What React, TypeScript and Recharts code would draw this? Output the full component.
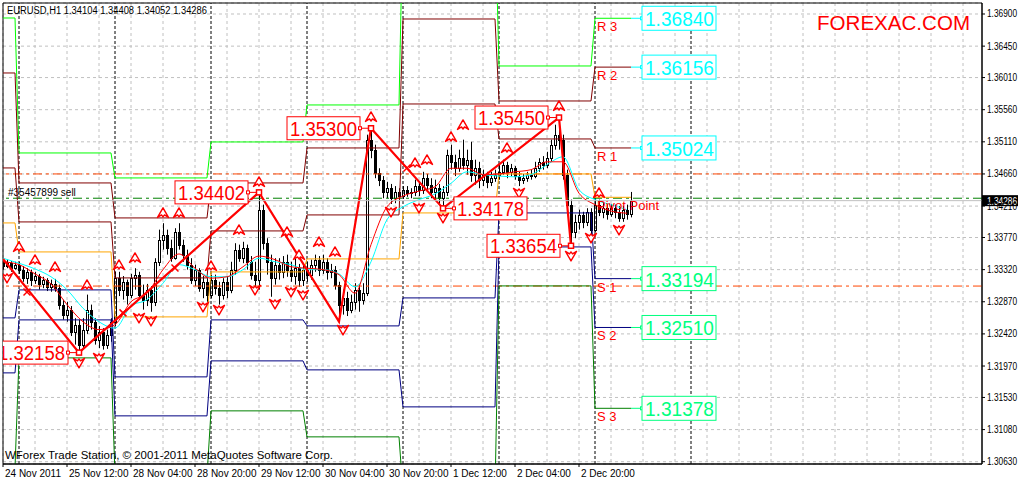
import React from 'react';
import {
  ComposedChart, XAxis, YAxis, CartesianGrid, Line, Bar, Scatter,
  ReferenceLine, ReferenceArea,
} from 'recharts';

const FONT = "'Liberation Sans', Arial, sans-serif";

// axes
const timeTicks = [0, 16, 32, 48, 64, 80, 96, 112, 128, 144];
const timeLabels = ['24 Nov 2011', '25 Nov 12:00', '28 Nov 04:00', '28 Nov 20:00', '29 Nov 12:00',
  '30 Nov 04:00', '30 Nov 20:00', '1 Dec 12:00', '2 Dec 04:00', '2 Dec 20:00'];
const priceTicks = [1.369, 1.3645, 1.3601, 1.3556, 1.3511, 1.3466, 1.3421, 1.3377, 1.3332,
  1.3287, 1.3242, 1.3197, 1.3153, 1.3108, 1.3063];
const gridCols = [0, 8, 16, 24, 32, 40, 48, 56, 64, 72, 80, 88, 96, 104, 112, 120, 128, 136,
  144, 152, 160, 168, 176, 184, 192, 200, 208, 216, 224, 232, 240];
const daySeparators = [4, 28, 52, 76, 100, 124, 148, 172];

// H1 candles, bar index 0..157
const opens = [1.3343,1.3337,1.3341,1.3334,1.3339,1.3332,1.3320,1.3329,1.3318,1.3323,
  1.3312,1.3318,1.3308,1.3312,1.3306,1.3283,1.3269,1.3276,1.3245,1.3255,
  1.3227,1.3248,1.3276,1.3259,1.3234,1.3245,1.3227,1.3241,1.3259,1.3320,
  1.3304,1.3315,1.3297,1.3320,1.3325,1.3297,1.3290,1.3304,1.3287,1.3343,
  1.3374,1.3381,1.3362,1.3348,1.3385,1.3367,1.3353,1.3339,1.3318,1.3332,
  1.3306,1.3315,1.3297,1.3318,1.3306,1.3297,1.3315,1.3304,1.3332,1.3360,
  1.3348,1.3362,1.3343,1.3325,1.3318,1.3416,1.3369,1.3343,1.3320,1.3339,
  1.3329,1.3343,1.3332,1.3323,1.3334,1.3318,1.3332,1.3325,1.3339,1.3346,
  1.3332,1.3343,1.3329,1.3332,1.3311,1.3283,1.3292,1.3276,1.3287,1.3304,
  1.3290,1.3299,1.3514,1.3500,1.3467,1.3458,1.3441,1.3446,1.3432,1.3441,
  1.3435,1.3444,1.3439,1.3441,1.3449,1.3444,1.3460,1.3451,1.3441,1.3446,
  1.3432,1.3441,1.3493,1.3483,1.3474,1.3488,1.3479,1.3486,1.3465,1.3474,
  1.3458,1.3465,1.3455,1.3460,1.3465,1.3469,1.3479,1.3469,1.3474,1.3463,
  1.3458,1.3460,1.3465,1.3463,1.3474,1.3483,1.3479,1.3488,1.3507,1.3521,
  1.3514,1.3465,1.3423,1.3385,1.3399,1.3409,1.3399,1.3413,1.3388,1.3423,
  1.3413,1.3418,1.3410,1.3418,1.3413,1.3404,1.3416,1.34104];
const highs = [1.3348,1.3346,1.3344,1.3343,1.3343,1.3337,1.3334,1.3332,1.3329,1.3326,
  1.3322,1.3320,1.3318,1.3319,1.3311,1.3290,1.3287,1.3281,1.3264,1.3262,
  1.3264,1.3297,1.3283,1.3264,1.3253,1.3250,1.3248,1.3264,1.3329,1.3329,
  1.3323,1.3318,1.3326,1.3334,1.3329,1.3311,1.3312,1.3309,1.3348,1.3388,
  1.3397,1.3388,1.3374,1.3390,1.3397,1.3374,1.3360,1.3348,1.3339,1.3334,
  1.3323,1.3320,1.3325,1.3325,1.3315,1.3320,1.3322,1.3343,1.3369,1.3367,
  1.3371,1.3367,1.3351,1.3343,1.34402,1.3423,1.3376,1.3353,1.3348,1.3348,
  1.3351,1.3353,1.3343,1.3348,1.3340,1.3339,1.3343,1.3346,1.3353,1.3351,
  1.3353,1.3348,1.3340,1.3337,1.3315,1.3304,1.3301,1.3297,1.3313,1.3311,
  1.3313,1.3521,1.3530,1.3507,1.3474,1.3463,1.3455,1.3452,1.3449,1.3446,
  1.3449,1.3449,1.3446,1.3458,1.3455,1.3469,1.3466,1.3460,1.3458,1.3452,
  1.3449,1.3500,1.3507,1.3493,1.3500,1.3514,1.3500,1.3511,1.3486,1.3483,
  1.3472,1.3469,1.3469,1.3472,1.3479,1.3486,1.3483,1.3480,1.3477,1.3469,
  1.3466,1.3469,1.3472,1.3483,1.3488,1.3491,1.3497,1.3514,1.3535,1.3545,
  1.3521,1.3472,1.3430,1.3409,1.3416,1.3413,1.3418,1.3418,1.3432,1.3430,
  1.3425,1.3424,1.3424,1.3423,1.3421,1.3421,1.3423,1.34408];
const lows = [1.3332,1.3334,1.3329,1.3332,1.3326,1.3315,1.3312,1.3309,1.3312,1.3304,
  1.3306,1.3302,1.3301,1.3301,1.3276,1.3262,1.3259,1.3239,1.3227,1.32158,
  1.3222,1.3242,1.3248,1.3227,1.3222,1.3220,1.3221,1.3231,1.3253,1.3295,
  1.3290,1.3283,1.3292,1.3304,1.3290,1.3276,1.3281,1.3273,1.3281,1.3337,
  1.3360,1.3353,1.3343,1.3346,1.3360,1.3343,1.3332,1.3312,1.3309,1.3301,
  1.3292,1.3287,1.3292,1.3297,1.3283,1.3290,1.3292,1.3299,1.3325,1.3343,
  1.3341,1.3332,1.3318,1.3304,1.3304,1.3360,1.3325,1.3294,1.3311,1.3318,
  1.3320,1.3322,1.3315,1.3311,1.3308,1.3309,1.3315,1.3318,1.3329,1.3323,
  1.3326,1.3318,1.3320,1.3304,1.32592,1.3269,1.3267,1.3271,1.3276,1.3273,
  1.3283,1.3295,1.3488,1.3460,1.3449,1.3432,1.3432,1.3424,1.3425,1.3430,
  1.3431,1.3434,1.3432,1.3435,1.3435,1.3438,1.3444,1.3432,1.3430,1.3424,
  1.34178,1.3435,1.3472,1.3463,1.3469,1.3472,1.3465,1.3455,1.3451,1.3446,
  1.3449,1.3446,1.3449,1.3455,1.3458,1.3465,1.3460,1.3463,1.3458,1.3449,
  1.3452,1.3455,1.3458,1.3460,1.3469,1.3472,1.3474,1.3483,1.3500,1.3500,
  1.3458,1.3409,1.33654,1.3376,1.3388,1.3390,1.3393,1.3379,1.3385,1.3407,
  1.3404,1.3402,1.3406,1.3404,1.3399,1.3399,1.3402,1.34052];
const closes = [1.3337,1.3341,1.3334,1.3339,1.3332,1.3320,1.3329,1.3318,1.3323,1.3312,
  1.3318,1.3308,1.3312,1.3306,1.3283,1.3269,1.3276,1.3245,1.3255,1.3227,
  1.3248,1.3276,1.3259,1.3234,1.3245,1.3227,1.3241,1.3259,1.3320,1.3304,
  1.3315,1.3297,1.3320,1.3325,1.3297,1.3290,1.3304,1.3287,1.3343,1.3374,
  1.3381,1.3362,1.3348,1.3385,1.3367,1.3353,1.3339,1.3318,1.3332,1.3306,
  1.3315,1.3297,1.3318,1.3306,1.3297,1.3315,1.3304,1.3332,1.3360,1.3348,
  1.3362,1.3343,1.3325,1.3318,1.3416,1.3369,1.3343,1.3320,1.3339,1.3329,
  1.3343,1.3332,1.3323,1.3334,1.3318,1.3332,1.3325,1.3339,1.3346,1.3332,
  1.3343,1.3329,1.3332,1.3311,1.3283,1.3292,1.3276,1.3287,1.3304,1.3290,
  1.3299,1.3514,1.3500,1.3467,1.3458,1.3441,1.3446,1.3432,1.3441,1.3435,
  1.3444,1.3439,1.3441,1.3449,1.3444,1.3460,1.3451,1.3441,1.3446,1.3432,
  1.3441,1.3493,1.3483,1.3474,1.3488,1.3479,1.3486,1.3465,1.3474,1.3458,
  1.3465,1.3455,1.3460,1.3465,1.3469,1.3479,1.3469,1.3474,1.3463,1.3458,
  1.3460,1.3465,1.3463,1.3474,1.3483,1.3479,1.3488,1.3507,1.3521,1.3514,
  1.3465,1.3423,1.3385,1.3399,1.3409,1.3399,1.3413,1.3388,1.3423,1.3413,
  1.3418,1.3410,1.3418,1.3413,1.3404,1.3416,1.34104,1.34286];

// daily pivot levels (first bar of each day)
const dayStart = [0, 4, 28, 52, 76, 100, 124, 148];
const r3 = [1.36844, 1.34954, 1.34604, 1.35108, 1.35626, 1.38356, 1.36172, 1.36840];
const r2 = [1.36074, 1.34534, 1.34044, 1.34534, 1.35024, 1.36830, 1.35682, 1.36156];
const r1 = [1.34744, 1.33988, 1.33204, 1.33862, 1.34086, 1.35640, 1.35150, 1.35024];
const pp = [1.33974, 1.33568, 1.32658, 1.33288, 1.33470, 1.34114, 1.34660, 1.34333];
const s1 = [1.32644, 1.33036, 1.31818, 1.32616, 1.32532, 1.32924, 1.34114, 1.33194];
const s2 = [1.31874, 1.32616, 1.31272, 1.32042, 1.31916, 1.31398, 1.33638, 1.32510];
const s3 = [1.30544, 1.32084, 1.30432, 1.31342, 1.30978, 1.30208, 1.33092, 1.31378];
const levelNames = ['R 3', 'R 2', 'R 1', 'Pivot Point', 'S 1', 'S 2', 'S 3'];

// moving averages, read every 4 bars
const maIdx = [0,4,8,12,16,20,24,28,32,36,40,44,48,52,56,60,64,68,72,76,
  80,84,88,92,96,100,104,108,112,116,120,124,128,132,136,140,144,148,152,156];
const maFast = [1.3343,1.3339,1.3326,1.3312,1.3283,1.3259,1.3248,1.3255,1.3287,1.3299,
  1.3332,1.3354,1.3334,1.3320,1.3322,1.3336,1.3351,1.3346,1.3336,1.3334,
  1.3332,1.3325,1.3299,1.3367,1.3420,1.3435,1.3442,1.3448,1.3474,1.3474,
  1.3465,1.3466,1.3469,1.3472,1.3483,1.3483,1.3439,1.3423,1.3414,1.3411];
const maSlow = [1.3348,1.3341,1.3333,1.3322,1.3304,1.3278,1.3259,1.3250,1.3281,1.3290,
  1.3313,1.3339,1.3332,1.3322,1.3322,1.3332,1.3348,1.3343,1.3339,1.3332,
  1.3332,1.3326,1.3308,1.3343,1.3402,1.3420,1.3430,1.3438,1.3453,1.3469,
  1.3465,1.3463,1.3462,1.3465,1.3479,1.3490,1.3444,1.3430,1.3423,1.3416];

// zigzag
const zzIdx = [0, 19, 64, 84, 92, 110, 139, 142];
const zzVal = [1.3347, 1.32158, 1.34402, 1.32592, 1.35300, 1.34178, 1.35450, 1.33654];
const zzTagged = [19, 64, 92, 110, 139, 142];

// fractal arrows
const upIdx = [4, 8, 13, 21, 29, 33, 40, 44, 52, 59, 64, 71, 74, 79, 83, 92, 103, 106, 112, 115, 126, 139, 149];
const upVal = [1.33638, 1.33456, 1.33358, 1.33106, 1.33386, 1.33484, 1.34114, 1.34114, 1.33372, 1.33876,
  1.34548, 1.33848, 1.33526, 1.33708, 1.33568, 1.35458, 1.34814, 1.34856, 1.35178, 1.35346,
  1.35024, 1.35612, 1.34394];
const downIdx = [1, 19, 24, 34, 37, 50, 54, 63, 68, 72, 75, 85, 97, 104, 110, 129, 142, 147, 154];
const downVal = [1.33204, 1.32014, 1.32084, 1.32644, 1.32602, 1.32798, 1.32756, 1.33036, 1.3284, 1.33008,
  1.32966, 1.32476, 1.34128, 1.34184, 1.34044, 1.34394, 1.33512, 1.33764, 1.33876];
const crossIdx = [6, 30, 43, 101];
const crossVal = [1.33008, 1.32714, 1.33344, 1.34744];

// horizontal lines
const stopLevels = [1.3466, 1.3309];
const orderPrice = 1.3432;
const orderText = '#35457899 sell';

// layout config (not data)
const zzSide: Record<number, 'left' | 'right'> = { 19: 'left', 64: 'left', 92: 'left', 110: 'right', 139: 'left', 142: 'left' };
const levelColors = ['#00ff00', '#800000', '#800000', '#ffa500', '#000080', '#000080', '#008000'];

const dayOf = (i: number) => {
  let d = 0;
  dayStart.forEach((s, k) => { if (i >= s) d = k; });
  return d;
};

const rows = opens.map((o, i) => {
  const d = dayOf(i);
  const m = maIdx.indexOf(i);
  const z = zzIdx.indexOf(i);
  return {
    i, o, h: highs[i], l: lows[i], c: closes[i],
    r3: r3[d], r2: r2[d], r1: r1[d], pp: pp[d], s1: s1[d], s2: s2[d], s3: s3[d],
    fast: m >= 0 ? maFast[m] : null,
    slow: m >= 0 ? maSlow[m] : null,
    zz: z >= 0 ? zzVal[z] : null,
  };
});

const lastBar = opens.length - 1;
const lastDay = dayStart.length - 1;
const todayLevels = [r3, r2, r1, pp, s1, s2, s3].map((a) => a[lastDay]);
const tagRows = todayLevels.map((v, k) => ({ i: lastBar, v, k }));
const nameRows = todayLevels.map((v, k) => ({ i: dayStart[lastDay] + 0.5, v, k }));
const zzRows = zzTagged.map((i) => ({ i, v: zzVal[zzIdx.indexOf(i)], side: zzSide[i] }));
const upRows = upIdx.map((i, k) => ({ i, v: upVal[k] }));
const downRows = downIdx.map((i, k) => ({ i, v: downVal[k] }));
const crossRows = crossIdx.map((i, k) => ({ i, v: crossVal[k] }));

const fmt = (v: number) => v.toFixed(5);

const TimeTick = (p: any) => {
  const k = timeTicks.indexOf(p.payload.value);
  return (
    <text x={p.x + 2} y={p.y + 7.5} fontSize={10} fontFamily={FONT} fill="#000" textAnchor="start">
      {timeLabels[k]}
    </text>
  );
};

const PriceTick = (p: any) => (
  <text x={p.x} y={p.y + 3.5} fontSize={10} fontFamily={FONT} fill="#000" textAnchor="start"
    textLength={30} lengthAdjust="spacingAndGlyphs">
    {fmt(p.payload.value)}
  </text>
);

const Candle = (p: any) => {
  const { x, y, width, height, payload } = p;
  const { o, h, l, c } = payload;
  const px = Math.round(x + width / 2);
  const k = h - l > 0 ? height / (h - l) : 0;
  const yo = y + (h - o) * k;
  const yc = y + (h - c) * k;
  const top = Math.round(Math.min(yo, yc));
  const bot = Math.round(Math.max(yo, yc));
  return (
    <g>
      <line x1={px + 0.5} x2={px + 0.5} y1={y} y2={y + height} stroke="#000" strokeWidth={1} />
      <rect x={px - 0.5} y={top + 0.5} width={2} height={Math.max(bot - top, 0.5)}
        fill={c >= o ? '#fff' : '#000'} stroke="#000" strokeWidth={1} />
    </g>
  );
};

const ArrowUp = (p: any) => {
  const { cx, cy } = p;
  return (
    <path d={`M${cx},${cy - 5} L${cx + 5.5},${cy + 4.5} L${cx + 1.5},${cy + 2} L${cx},${cy + 4} L${cx - 1.5},${cy + 2} L${cx - 5.5},${cy + 4.5} Z`}
      fill="#fff" stroke="#ff0000" strokeWidth={1.4} strokeLinejoin="round" />
  );
};

const ArrowDown = (p: any) => {
  const { cx, cy } = p;
  return (
    <path d={`M${cx},${cy + 5} L${cx + 5.5},${cy - 4.5} L${cx + 1.5},${cy - 2} L${cx},${cy - 4} L${cx - 1.5},${cy - 2} L${cx - 5.5},${cy - 4.5} Z`}
      fill="#fff" stroke="#ff0000" strokeWidth={1.4} strokeLinejoin="round" />
  );
};

const Cross = (p: any) => {
  const { cx, cy } = p;
  return (
    <g stroke="#ff0000" strokeWidth={1.5}>
      <line x1={cx - 3.5} y1={cy - 3.5} x2={cx + 3.5} y2={cy + 3.5} />
      <line x1={cx - 3.5} y1={cy + 3.5} x2={cx + 3.5} y2={cy - 3.5} />
    </g>
  );
};

const ZzTag = (p: any) => {
  const { cx, cy, payload } = p;
  const left = payload.side === 'left';
  const w = 73;
  const bx = left ? cx - 11 - w : cx + 11;
  const edge = left ? bx + w : bx;
  return (
    <g>
      <line x1={cx} y1={cy} x2={edge} y2={cy} stroke="#ff0000" strokeWidth={1} />
      <rect x={cx - 2.5} y={cy - 2.5} width={5} height={5} fill="#fff" stroke="#ff0000" strokeWidth={1.5} />
      <rect x={bx} y={cy - 11.5} width={w} height={23} fill="#fff" stroke="#ff0000" strokeWidth={1} />
      <rect x={edge - 1.5} y={cy - 1.5} width={3} height={3} fill="#fff" stroke="#ff0000" strokeWidth={1} />
      <text x={bx + 3} y={cy + 7.5} fontSize={20} fontFamily={FONT} fill="#ff0000"
        textLength={67} lengthAdjust="spacingAndGlyphs">{fmt(payload.v)}</text>
    </g>
  );
};

const LevelTag = (p: any) => {
  const { cx, cy, payload } = p;
  if (payload.k === 3) return <g />;
  const col = payload.k < 3 ? '#00ffff' : '#00ff7f';
  const bx = cx + 11;
  return (
    <g>
      <line x1={cx} y1={cy} x2={bx} y2={cy} stroke={col} strokeWidth={1} />
      <rect x={bx - 1.5} y={cy - 1.5} width={3} height={3} fill="#fff" stroke={col} strokeWidth={1} />
      <rect x={bx} y={cy - 12} width={74} height={24} fill="#fff" stroke={col} strokeWidth={1} />
      <text x={bx + 3} y={cy + 8} fontSize={21} fontFamily={FONT} fill={col}
        textLength={69} lengthAdjust="spacingAndGlyphs">{fmt(payload.v)}</text>
    </g>
  );
};

const LevelName = (p: any) => {
  const { cx, cy, payload } = p;
  return (
    <text x={cx} y={cy + 13} fontSize={13} fontFamily={FONT} fill="#ff0000">{levelNames[payload.k]}</text>
  );
};

const last = lastBar;
const header = `EURUSD,H1  ${fmt(opens[last])} ${fmt(highs[last])} ${fmt(lows[last])} ${fmt(closes[last])}`;

export default function App() {
  const levelKeys = ['r3', 'r2', 'r1', 'pp', 's1', 's2', 's3'];
  return (
    <div style={{ position: 'relative', width: 1018, height: 481, background: '#fff' }}>
      <style>{'body{margin:0}'}</style>
      <ComposedChart width={1018} height={481} data={rows} margin={{ top: 3, right: 0, bottom: 0, left: 3 }}>
        <CartesianGrid stroke="#c0c0c0" strokeDasharray="3 3" verticalValues={gridCols} />
        <XAxis dataKey="i" type="number" domain={[0, 244.75]} allowDataOverflow ticks={timeTicks}
          interval={0} tickSize={3} height={17} axisLine={{ stroke: '#000' }} tickLine={{ stroke: '#000' }}
          tick={TimeTick} />
        <YAxis orientation="right" type="number" domain={[1.30598, 1.37054]} allowDataOverflow
          ticks={priceTicks} interval={0} tickSize={3} width={36} axisLine={{ stroke: '#000' }}
          tickLine={{ stroke: '#000' }} tick={PriceTick} />
        <ReferenceArea x1={0} x2={244.75} y1={1.30598} y2={1.37054} fill="none" stroke="#000" ifOverflow="visible" />
        {daySeparators.map((d) => (
          <ReferenceLine key={'sep' + d} x={d} stroke="#000" strokeDasharray="3 2" />
        ))}
        {stopLevels.map((v) => (
          <ReferenceLine key={'st' + v} y={v} stroke="#ff4500" strokeDasharray="9 4 3 4" />
        ))}
        <ReferenceLine y={orderPrice} stroke="#008000" strokeDasharray="9 4 3 4"
          label={(p: any) => (
            <text x={p.viewBox.x + 5} y={p.viewBox.y - 2} fontSize={10} fontFamily={FONT} fill="#000">{orderText}</text>
          )} />
        {levelKeys.map((k, n) => (
          <Line key={k} dataKey={k} type="linear" stroke={levelColors[n]} strokeWidth={1}
            dot={false} activeDot={false} isAnimationActive={false} />
        ))}
        <Bar dataKey={(d: any) => [d.l, d.h]} barSize={3} shape={Candle} isAnimationActive={false} />
        <Line dataKey="slow" type="monotone" stroke="#00ffff" strokeWidth={1} dot={false}
          activeDot={false} connectNulls isAnimationActive={false} />
        <Line dataKey="fast" type="monotone" stroke="#ff0000" strokeWidth={1} dot={false}
          activeDot={false} connectNulls isAnimationActive={false} />
        <Line dataKey="zz" type="linear" stroke="#ff0000" strokeWidth={2.2} dot={false}
          activeDot={false} connectNulls isAnimationActive={false} />
        <ReferenceLine y={closes[last]} stroke="#c0c0c0"
          label={(p: any) => {
            const { x, y, width } = p.viewBox;
            return (
              <g>
                <rect x={x + width} y={y - 5.5} width={36} height={11} fill="#000" />
                <text x={x + width + 5} y={y + 4} fontSize={10} fontFamily={FONT} fill="#fff"
                  textLength={30} lengthAdjust="spacingAndGlyphs">{fmt(closes[last])}</text>
              </g>
            );
          }} />
        <Scatter data={upRows} dataKey="v" shape={ArrowUp} isAnimationActive={false} />
        <Scatter data={downRows} dataKey="v" shape={ArrowDown} isAnimationActive={false} />
        <Scatter data={crossRows} dataKey="v" shape={Cross} isAnimationActive={false} />
        <Scatter data={zzRows} dataKey="v" shape={ZzTag} isAnimationActive={false} />
        <Scatter data={nameRows} dataKey="v" shape={LevelName} isAnimationActive={false} />
        <Scatter data={tagRows} dataKey="v" shape={LevelTag} isAnimationActive={false} />
      </ComposedChart>
      <svg width={1018} height={481} style={{ position: 'absolute', left: 0, top: 0, pointerEvents: 'none' }}>
        <text x={7} y={14} fontSize={10} fontFamily={FONT} fill="#000" textLength={200}
          lengthAdjust="spacingAndGlyphs">{header}</text>
        <text x={817} y={30} fontSize={21} fontFamily={FONT} fill="#ff0000" textLength={153}
          lengthAdjust="spacingAndGlyphs">FOREXAC.COM</text>
        <text x={5} y={459} fontSize={11} fontFamily={FONT} fill="#000" textLength={328}
          lengthAdjust="spacingAndGlyphs">WForex Trade Station, © 2001-2011 MetaQuotes Software Corp.</text>
      </svg>
    </div>
  );
}
